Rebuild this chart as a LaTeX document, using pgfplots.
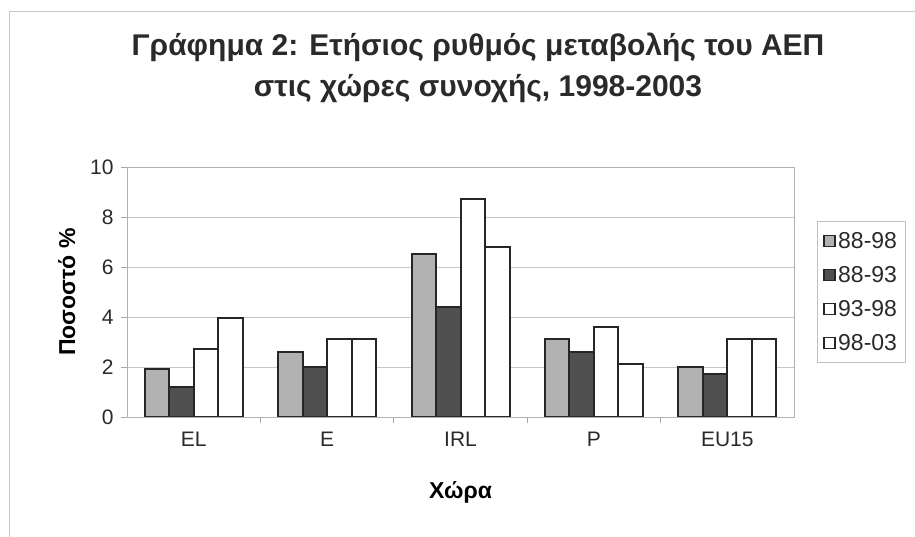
\documentclass[border=0pt]{standalone}
\usepackage{pgfplots}
\pgfplotsset{compat=1.18}
\usepackage{fontspec}
\setmainfont{Liberation Sans}
\definecolor{lgray}{HTML}{B2B2B2}
\definecolor{dgray}{HTML}{505050}
\definecolor{txt}{HTML}{2A2A2A}
\begin{document}
\begin{tikzpicture}
\useasboundingbox (0pt,0pt) rectangle (915pt,537pt);
\draw[gray!45, line width=1pt] (9pt,0pt) -- (9pt,525pt) -- (915pt,525pt);
\node[anchor=base, font=\bfseries\fontsize{30}{36}\selectfont, text=txt] at (478pt,481pt) {Γράφημα 2: Ετήσιος ρυθμός μεταβολής του ΑΕΠ};
\node[anchor=base, font=\bfseries\fontsize{30}{36}\selectfont, text=txt] at (478pt,440pt) {στις χώρες συνοχής, 1998-2003};
\begin{axis}[
  at={(127pt,120pt)}, anchor=south west,
  scale only axis, width=667pt, height=250pt,
  xmin=-0.5, xmax=4.5, ymin=0, ymax=10,
  ytick={0,2,...,10},
  /pgf/number format/assume math mode=true,
  xtick={0.5,1.5,2.5,3.5}, xticklabels={},
  extra x ticks={0,1,2,3,4},
  extra x tick labels={EL,E,IRL,P,EU15},
  extra x tick style={tick style={draw=none}, grid=none},
  xtick pos=bottom, ytick pos=left,
  tick align=outside, major tick length=6pt,
  tick style={gray!70, line width=0.8pt},
  axis line style={gray!60, line width=0.8pt},
  ymajorgrids, grid style={gray!45, line width=0.8pt},
  ybar=0pt, bar width=24.5pt,
  tick label style={font=\fontsize{21}{25}\selectfont, text=txt},
  xticklabel style={yshift=-6pt},
  yticklabel style={xshift=-4pt},
  xlabel={Χώρα}, ylabel={Ποσοστό \%},
  label style={font=\bfseries\fontsize{23}{27}\selectfont, text=black},
  xlabel style={yshift=-22pt},
  ylabel style={yshift=8pt},
  legend style={at={(1,0.5)}, anchor=west, xshift=23pt, draw=gray!50, line width=0.8pt,
     font=\fontsize{23}{27}\selectfont, text=txt, row sep=12.5pt, inner xsep=6pt, inner ysep=9pt,
     cells={anchor=west}},
  legend image code/.code={\draw[#1, line width=1.8pt] (0pt,-5.5pt) rectangle (11pt,5.5pt);},
  every axis plot/.append style={draw=black!85, line width=2pt},
]
\addplot[fill=lgray] coordinates {(0,1.9) (1,2.6) (2,6.5) (3,3.1) (4,2.0)};
\addplot[fill=dgray] coordinates {(0,1.2) (1,2.0) (2,4.4) (3,2.6) (4,1.7)};
\addplot[fill=white] coordinates {(0,2.7) (1,3.1) (2,8.7) (3,3.6) (4,3.1)};
\addplot[fill=white] coordinates {(0,3.95) (1,3.1) (2,6.8) (3,2.1) (4,3.1)};
\legend{88-98,88-93,93-98,98-03}
\end{axis}
\end{tikzpicture}
\end{document}
